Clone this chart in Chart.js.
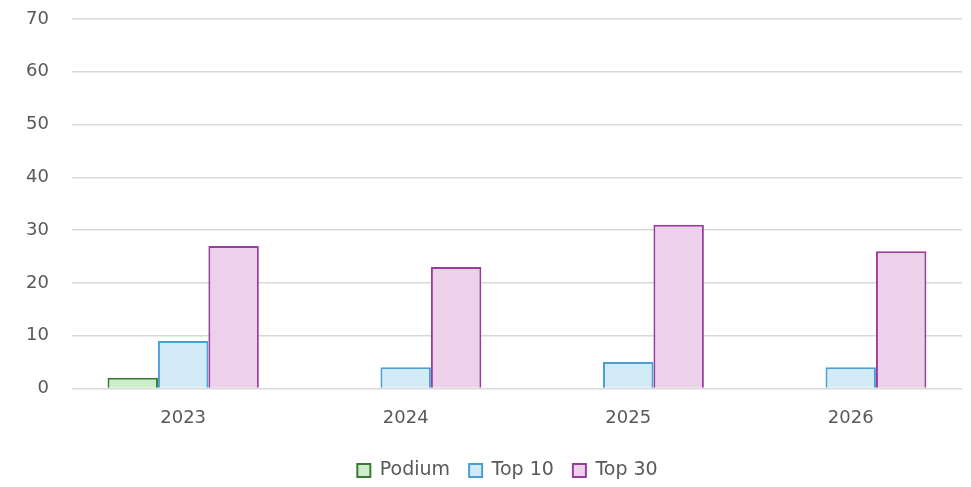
<!DOCTYPE html>
<html>
<head>
<meta charset="utf-8">
<script src="https://cdn.jsdelivr.net/npm/chart.js@4.4.1/dist/chart.umd.min.js"></script>
<style>
  html, body { margin: 0; padding: 0; background: #fff; }
  #wrap { width: 971px; height: 487px; }
</style>
</head>
<body>
<div id="wrap"><canvas id="myChart" width="971" height="487"></canvas></div>
<script>
var years = ['2023', '2024', '2025', '2026'];
var podium = [2, 0, 0, 0];
var top10 = [9, 4, 5, 4];
var top30 = [27, 23, 31, 26];
var yTicks = [0, 10, 20, 30, 40, 50, 60, 70];

var FONT = "'DejaVu Sans', sans-serif";

// the legend sits a little right of the canvas centre in the original
var shiftLegend = {
    id: 'shiftLegend',
    afterLayout: function(chart) {
        chart.legend.left += 25;
        chart.legend.right += 25;
    }
};

var myChart = new Chart(document.getElementById('myChart'), {
    type: 'bar',
    data: {
        labels: years,
        datasets: [{
            label: 'Podium',
            data: podium,
            backgroundColor: '#cdeecb',
            borderColor: '#3a7a34',
            borderWidth: 2,
            borderSkipped: 'bottom'
        }, {
            label: 'Top 10',
            data: top10,
            backgroundColor: '#d3ebf7',
            borderColor: '#4aa0d5',
            borderWidth: 2,
            borderSkipped: 'bottom'
        }, {
            label: 'Top 30',
            data: top30,
            backgroundColor: '#edd0ea',
            borderColor: '#993d9c',
            borderWidth: 2,
            borderSkipped: 'bottom'
        }]
    },
    plugins: [shiftLegend],
    options: {
        responsive: false,
        animation: false,
        devicePixelRatio: 1,
        layout: { padding: { top: 19, right: 9, left: 3, bottom: -3 } },
        datasets: { bar: { categoryPercentage: 0.68, barPercentage: 1 } },
        scales: {
            x: {
                grid: { display: false, drawTicks: false },
                border: { display: false },
                ticks: { color: '#595959', font: { family: FONT, size: 18 }, padding: 19 },
                afterFit: function(axis) {
                    axis.height = 53.6;
                }
            },
            y: {
                min: 0,
                max: 70,
                afterBuildTicks: function(axis) {
                    axis.ticks = yTicks.map(function(v) { return { value: v }; });
                },
                afterFit: function(axis) {
                    axis.paddingTop = 0;
                    axis.paddingBottom = 0;
                },
                grid: { color: '#d9d9d9', lineWidth: 1.5, drawTicks: false },
                border: { display: false },
                ticks: { color: '#595959', font: { family: FONT, size: 18 }, padding: 23 }
            }
        },
        plugins: {
            legend: {
                position: 'bottom',
                labels: {
                    color: '#595959',
                    font: { family: FONT, size: 19 },
                    boxWidth: 13,
                    boxHeight: 13,
                    padding: 19,
                    useBorderRadius: false
                }
            },
            tooltip: { enabled: false }
        }
    }
});
</script>
</body>
</html>
